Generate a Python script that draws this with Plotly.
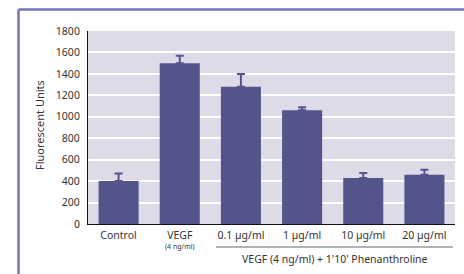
import plotly.graph_objects as go

categories = ["Control", "VEGF", "0.1 µg/ml", "1 µg/ml", "10 µg/ml", "20 µg/ml"]
values = [400, 1500, 1280, 1060, 430, 460]
errors_plus = [70, 70, 120, 30, 45, 45]
y_ticks = [0, 200, 400, 600, 800, 1000, 1200, 1400, 1600, 1800]
y_title = "Fluorescent Units"
vegf_sub = "(4 ng/ml)"
group_label = "VEGF (4 ng/ml) + 1'10' Phenanthroline"

W, H = 464, 274
L, R, T, B = 88, 9, 31, 50
pw, ph = W - L - R, H - T - B


def px(x):
    return (x - L) / pw


def py(y):
    return (H - B - y) / ph


FONT = "Noto Sans"
BAR = "#53548a"
FRAME = "#7276b6"

fig = go.Figure(go.Bar(
    x=categories, y=values, marker_color=BAR, marker_line_width=0,
    error_y=dict(type="data", symmetric=False, array=errors_plus,
                 arrayminus=[0] * len(values), color=BAR, thickness=2, width=4),
))

fig.update_layout(
    width=W, height=H, margin=dict(l=L, r=R, t=T, b=B),
    paper_bgcolor="white", plot_bgcolor="#dedbe9",
    bargap=0.345, showlegend=False,
    font=dict(family=FONT, size=10, color="#333333"),
    xaxis=dict(showline=True, linecolor="#111111", linewidth=1, showgrid=False,
               ticks="", tickfont=dict(size=10.5), ticklabelstandoff=1),
    yaxis=dict(range=[0, 1800], tickvals=y_ticks, showline=True,
               linecolor="#111111", linewidth=1, gridcolor="white", gridwidth=1.5,
               ticks="", tickfont=dict(size=10.5), ticklabelstandoff=5,
               zeroline=False),
    shapes=[
        dict(type="line", xref="paper", yref="paper", x0=px(18.5), x1=px(470),
             y0=py(9.5), y1=py(9.5), line=dict(color=FRAME, width=2.5)),
        dict(type="line", xref="paper", yref="paper", x0=px(18.5), x1=px(18.5),
             y0=py(9.5), y1=py(290), line=dict(color=FRAME, width=2.5)),
        dict(type="line", xref="paper", yref="paper", x0=px(216), x1=px(453),
             y0=py(247), y1=py(247), line=dict(color="#666666", width=1)),
    ],
    annotations=[
        dict(text=y_title, xref="paper", yref="paper", x=px(40), y=py(125),
             xanchor="center", yanchor="middle",
             textangle=-90, showarrow=False, font=dict(size=11)),
        dict(text=vegf_sub, xref="x", yref="paper", x=categories[1], y=py(246),
             xanchor="center", yanchor="middle",
             showarrow=False, font=dict(size=7)),
        dict(text=group_label, xref="paper", yref="paper", x=px(335), y=py(259),
             xanchor="center", yanchor="middle",
             showarrow=False, font=dict(size=10.5)),
    ],
)

fig.write_html("out.html", config={"displayModeBar": False},
               post_script="document.body.style.margin='0';")
